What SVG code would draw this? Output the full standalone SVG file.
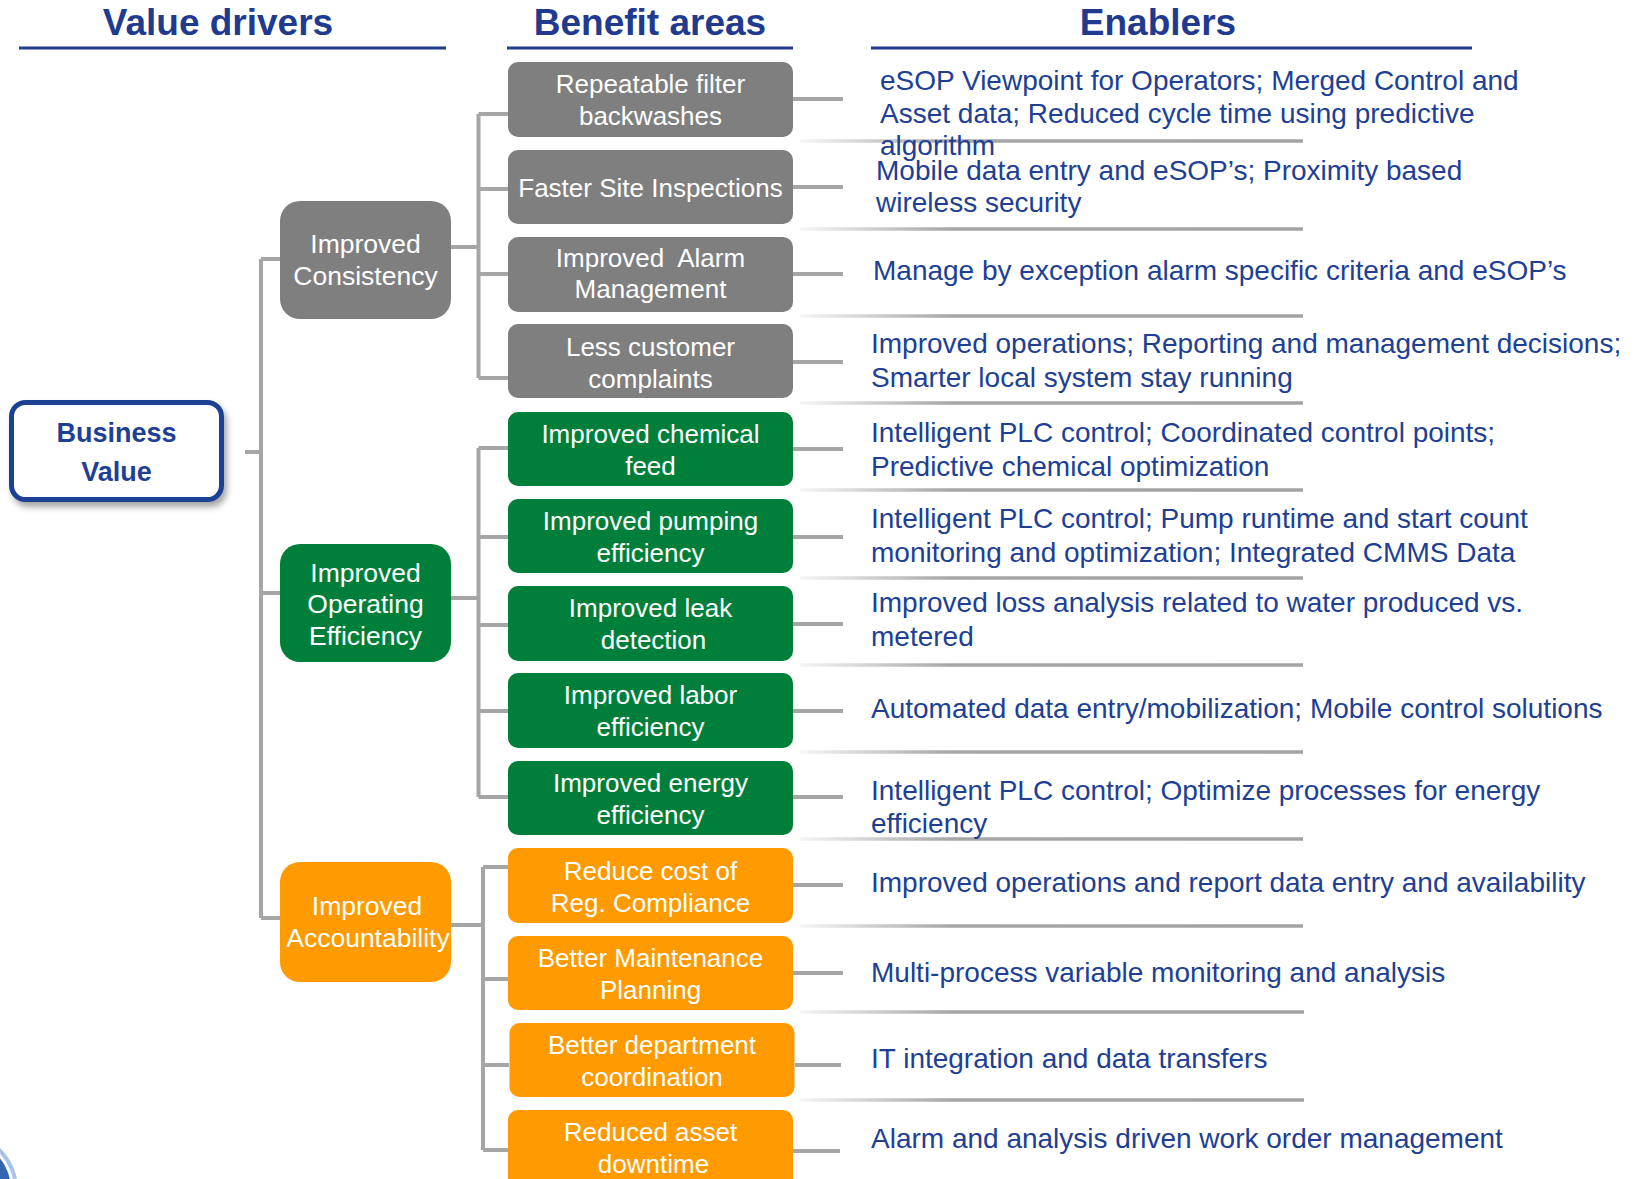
<svg xmlns="http://www.w3.org/2000/svg" width="1636" height="1179" viewBox="0 0 1636 1179">
<style>
.title{font-family:"Liberation Sans",Arial,sans-serif;font-weight:bold;font-size:37px;fill:#1f3a8f;text-anchor:middle}
.uline{stroke:#1f3a8f;stroke-width:3;fill:none}
.conn{stroke:#a6a6a6;stroke-width:4;fill:none}
.sep{stroke:url(#sepg);stroke-width:3.5;fill:none}
.bt{font-family:"Liberation Sans",Arial,sans-serif;font-size:26px;fill:#ffffff;text-anchor:middle;white-space:pre}
.mt{font-family:"Liberation Sans",Arial,sans-serif;font-size:26.5px;fill:#ffffff;text-anchor:middle}
.et{font-family:"Liberation Sans",Arial,sans-serif;font-size:28px;fill:#203f94}
.gray{fill:#7f7f7f}
.green{fill:#007f3b}
.orange{fill:#ff9a00}
</style>
<defs>
<linearGradient id="sepg" gradientUnits="userSpaceOnUse" x1="800" y1="0" x2="1303" y2="0">
<stop offset="0" stop-color="#f6f6f6"/>
<stop offset="0.3" stop-color="#a6a6a6"/>
<stop offset="1" stop-color="#a3a3a3"/>
</linearGradient>
<filter id="shadow" x="-20%" y="-20%" width="140%" height="150%">
<feDropShadow dx="3" dy="5" stdDeviation="3" flood-color="#000000" flood-opacity="0.35"/>
</filter>
</defs>
<rect width="1636" height="1179" fill="#ffffff"/>

<g id="headers">
<text class="title" x="218" y="35">Value drivers</text>
<line class="uline" x1="19" y1="48" x2="446" y2="48"/>
<text class="title" x="650" y="35">Benefit areas</text>
<line class="uline" x1="507" y1="48" x2="793" y2="48"/>
<text class="title" x="1158" y="35">Enablers</text>
<line class="uline" x1="871" y1="48" x2="1472" y2="48"/>
</g>

<g id="connectors">
<path class="conn" d="M245 452 H261 M261 259 V918 M261 259 H280 M261 593 H280 M261 918 H280"/>
<path class="conn" d="M451 247 H478.5 M478.5 114 V378 M478.5 114 H508 M478.5 189 H508 M478.5 274 H508 M478.5 378 H508"/>
<path class="conn" d="M451 598 H478.5 M478.5 448 V797 M478.5 448 H508 M478.5 537 H508 M478.5 625 H508 M478.5 711 H508 M478.5 797 H508"/>
<path class="conn" d="M451 925 H483 M483 867 V1150 M483 867 H508 M483 979 H508 M483 1065 H509 M483 1150 H508"/>
<path class="conn" d="M793 99 H843 M793 187 H843 M793 274 H843 M793 362 H843 M793 449 H843 M793 537 H843 M793 624 H843 M793 711 H843 M793 797 H843 M793 885 H843 M793 973 H843 M795 1065 H841 M793 1151 H840"/>
</g>

<g id="separators">
<line class="sep" x1="800" y1="141" x2="1303" y2="141"/>
<line class="sep" x1="800" y1="229" x2="1303" y2="229"/>
<line class="sep" x1="800" y1="316" x2="1303" y2="316"/>
<line class="sep" x1="800" y1="403" x2="1303" y2="403"/>
<line class="sep" x1="800" y1="490" x2="1303" y2="490"/>
<line class="sep" x1="800" y1="578" x2="1303" y2="578"/>
<line class="sep" x1="800" y1="665" x2="1303" y2="665"/>
<line class="sep" x1="800" y1="752" x2="1303" y2="752"/>
<line class="sep" x1="800" y1="839" x2="1303" y2="839"/>
<line class="sep" x1="800" y1="926" x2="1303" y2="926"/>
<line class="sep" x1="800" y1="1012" x2="1304" y2="1012"/>
<line class="sep" x1="800" y1="1100" x2="1304" y2="1100"/>
</g>

<g id="business-value">
<rect x="11.5" y="402.5" width="210" height="97" rx="14" fill="#ffffff" stroke="#1f3f94" stroke-width="5" filter="url(#shadow)"/>
<text x="116.5" y="442" font-family="Liberation Sans, Arial, sans-serif" font-weight="bold" font-size="27" fill="#1f3f94" text-anchor="middle">Business</text>
<text x="116.5" y="481" font-family="Liberation Sans, Arial, sans-serif" font-weight="bold" font-size="27" fill="#1f3f94" text-anchor="middle">Value</text>
</g>

<g id="improved-consistency">
<rect class="gray" x="280" y="201" width="171" height="118" rx="20"/>
<text class="mt" x="365.5" y="253">Improved</text>
<text class="mt" x="365.5" y="285">Consistency</text>
</g>
<g id="improved-operating-efficiency">
<rect class="green" x="280" y="544" width="171" height="118" rx="20"/>
<text class="mt" x="365.5" y="582">Improved</text>
<text class="mt" x="365.5" y="613">Operating</text>
<text class="mt" x="365.5" y="645">Efficiency</text>
</g>
<g id="improved-accountability">
<rect class="orange" x="280" y="862" width="171" height="120" rx="20"/>
<text class="mt" x="367" y="915">Improved</text>
<text class="mt" x="368" y="947">Accountability</text>
</g>

<g id="b1"><rect class="gray" x="508" y="62" width="285" height="75" rx="10"/>
<text class="bt" x="650.5" y="93">Repeatable filter</text><text class="bt" x="650.5" y="125">backwashes</text></g>
<g id="b2"><rect class="gray" x="508" y="150" width="285" height="74" rx="10"/>
<text class="bt" x="650.5" y="197">Faster Site Inspections</text></g>
<g id="b3"><rect class="gray" x="508" y="237" width="285" height="75" rx="10"/>
<text class="bt" x="650.5" y="267">Improved  Alarm</text><text class="bt" x="650.5" y="298">Management</text></g>
<g id="b4"><rect class="gray" x="508" y="324" width="285" height="74" rx="10"/>
<text class="bt" x="650.5" y="356">Less customer</text><text class="bt" x="650.5" y="388">complaints</text></g>

<g id="b5"><rect class="green" x="508" y="412" width="285" height="74" rx="10"/>
<text class="bt" x="650.5" y="443">Improved chemical</text><text class="bt" x="650.5" y="475">feed</text></g>
<g id="b6"><rect class="green" x="508" y="499" width="285" height="74" rx="10"/>
<text class="bt" x="650.5" y="530">Improved pumping</text><text class="bt" x="650.5" y="562">efficiency</text></g>
<g id="b7"><rect class="green" x="508" y="586" width="285" height="75" rx="10"/>
<text class="bt" x="650.5" y="617">Improved leak</text><text class="bt" x="653.5" y="649">detection</text></g>
<g id="b8"><rect class="green" x="508" y="673" width="285" height="75" rx="10"/>
<text class="bt" x="650.5" y="704">Improved labor</text><text class="bt" x="650.5" y="736">efficiency</text></g>
<g id="b9"><rect class="green" x="508" y="761" width="285" height="74" rx="10"/>
<text class="bt" x="650.5" y="792">Improved energy</text><text class="bt" x="650.5" y="824">efficiency</text></g>

<g id="b10"><rect class="orange" x="508" y="848" width="285" height="75" rx="10"/>
<text class="bt" x="650.5" y="880">Reduce cost of</text><text class="bt" x="650.5" y="912">Reg. Compliance</text></g>
<g id="b11"><rect class="orange" x="508" y="936" width="285" height="74" rx="10"/>
<text class="bt" x="650.5" y="967">Better Maintenance</text><text class="bt" x="650.5" y="999">Planning</text></g>
<g id="b12"><rect class="orange" x="509.5" y="1023" width="285" height="74" rx="10"/>
<text class="bt" x="652" y="1054">Better department</text><text class="bt" x="652" y="1086">coordination</text></g>
<g id="b13"><rect class="orange" x="508" y="1110" width="285" height="80" rx="10"/>
<text class="bt" x="650.5" y="1141">Reduced asset</text><text class="bt" x="653.5" y="1173">downtime</text></g>

<g id="enablers">
<text class="et" x="880" y="90">eSOP Viewpoint for Operators; Merged Control and</text>
<text class="et" x="880" y="123">Asset data; Reduced cycle time using predictive</text>
<text class="et" x="880" y="155">algorithm</text>
<text class="et" x="876" y="180">Mobile data entry and eSOP’s; Proximity based</text>
<text class="et" x="876" y="212">wireless security</text>
<text class="et" x="873" y="280">Manage by exception alarm specific criteria and eSOP’s</text>
<text class="et" x="871" y="353">Improved operations; Reporting and management decisions;</text>
<text class="et" x="871" y="387">Smarter local system stay running</text>
<text class="et" x="871" y="442">Intelligent PLC control; Coordinated control points;</text>
<text class="et" x="871" y="476">Predictive chemical optimization</text>
<text class="et" x="871" y="528">Intelligent PLC control; Pump runtime and start count</text>
<text class="et" x="871" y="562">monitoring and optimization; Integrated CMMS Data</text>
<text class="et" x="871" y="612">Improved loss analysis related to water produced vs.</text>
<text class="et" x="871" y="646">metered</text>
<text class="et" x="871" y="718">Automated data entry/mobilization; Mobile control solutions</text>
<text class="et" x="871" y="800">Intelligent PLC control; Optimize processes for energy</text>
<text class="et" x="871" y="833">efficiency</text>
<text class="et" x="871" y="892">Improved operations and report data entry and availability</text>
<text class="et" x="871" y="982">Multi-process variable monitoring and analysis</text>
<text class="et" x="871" y="1068">IT integration and data transfers</text>
<text class="et" x="871" y="1148">Alarm and analysis driven work order management</text>
</g>

<g id="logo">
<circle cx="-40" cy="1190" r="58" fill="#a9c3e6"/>
<circle cx="-40" cy="1190" r="54" fill="#ffffff"/>
<circle cx="-40" cy="1190" r="51" fill="#3565b0"/>
</g>
</svg>
